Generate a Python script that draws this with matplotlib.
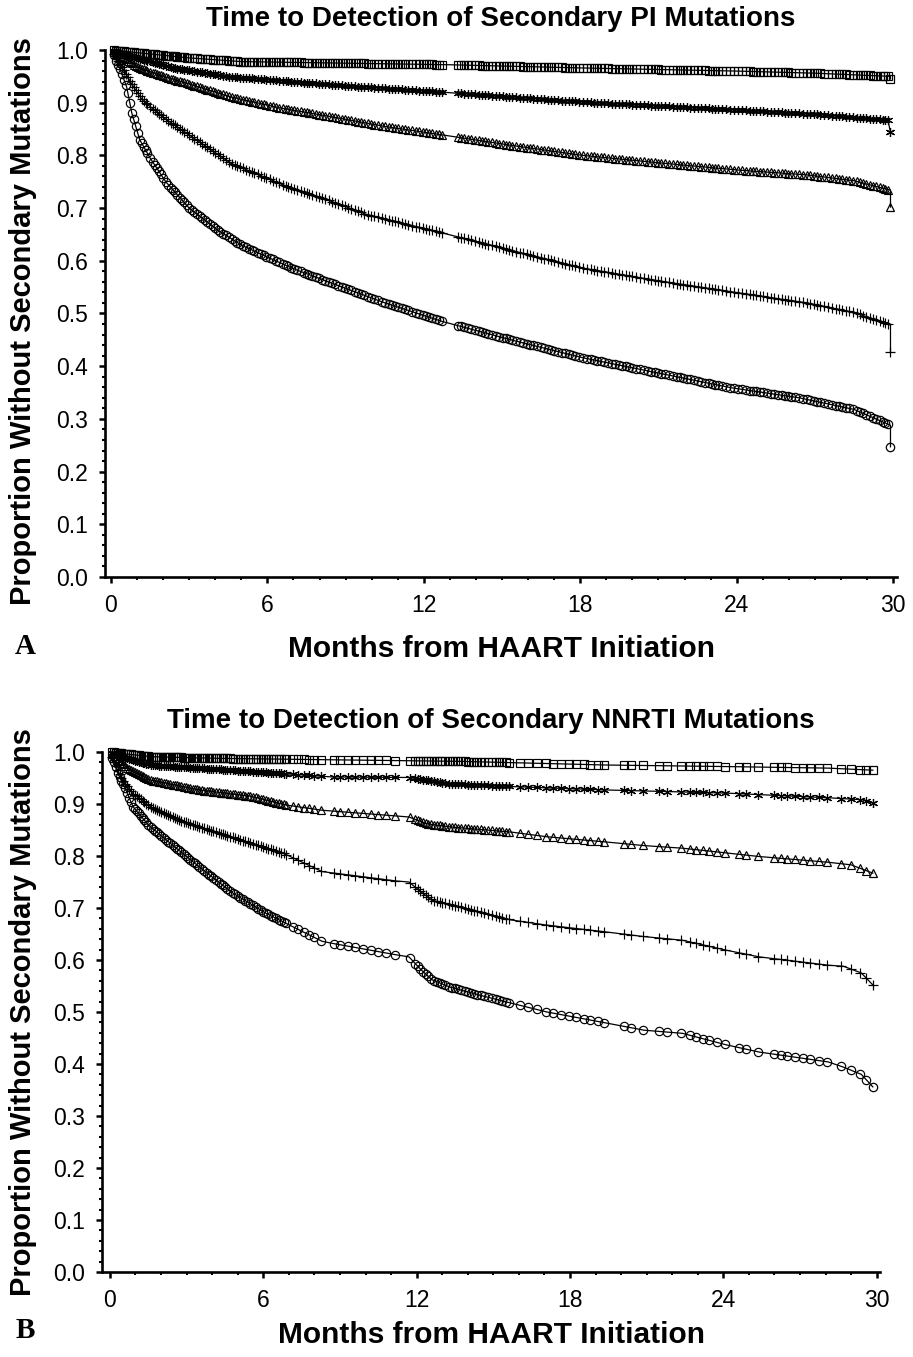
import numpy as np
import matplotlib.pyplot as plt
from matplotlib.ticker import MultipleLocator

plt.rcParams['font.family'] = ['Liberation Sans', 'DejaVu Sans']

# ---------------------------------------------------------------
# Panel A: secondary PI mutations
# ---------------------------------------------------------------
pi_sq_t = [0, 1, 3, 5, 9, 13, 18, 24, 27, 29.9, 29.9]
pi_sq_y = [1.0, 0.995, 0.985, 0.978, 0.975, 0.972, 0.966, 0.96, 0.956, 0.95, 0.945]

pi_st_t = [0, 0.5, 1, 2.5, 4.6, 8.5, 12.7, 18.2, 24.1, 27, 29.8, 29.9]
pi_st_y = [1.0, 0.993, 0.985, 0.965, 0.949, 0.934, 0.92, 0.901, 0.886, 0.878, 0.867, 0.844]

pi_tr_t = [0, 0.5, 1, 2, 2.9, 4.6, 6.5, 8.5, 10.5, 12.7, 15.5, 18.1, 21, 24.1, 26.7, 28.5, 29.9, 29.9]
pi_tr_y = [1.0, 0.985, 0.968, 0.95, 0.937, 0.911, 0.89, 0.873, 0.855, 0.839, 0.818, 0.80,
           0.786, 0.772, 0.763, 0.752, 0.734, 0.702]

pi_pl_t = [0, 0.4, 0.8, 1.2, 2, 2.9, 4.6, 6.8, 8.5, 9.8, 12.7, 15.5, 18.1, 21, 24.1, 26.7,
           28.5, 29.9, 29.9]
pi_pl_y = [1.0, 0.97, 0.935, 0.905, 0.872, 0.842, 0.785, 0.74, 0.712, 0.688, 0.653, 0.618,
           0.586, 0.562, 0.539, 0.52, 0.502, 0.478, 0.427]

pi_ci_t = [0, 0.3, 0.6, 0.8, 1.1, 1.5, 2.1, 3, 4.1, 5, 6, 7, 8.5, 10.4, 12.7, 15.5, 18.1, 21,
           23.8, 26.4, 28.5, 29.9, 29.9]
pi_ci_y = [1.0, 0.97, 0.93, 0.88, 0.83, 0.795, 0.75, 0.70, 0.658, 0.63, 0.607, 0.585, 0.557,
           0.522, 0.485, 0.448, 0.416, 0.387, 0.359, 0.34, 0.318, 0.288, 0.247]

# censoring times (months) seen as marks along the PI curves
pi_cens = [0.2, 0.35, 0.5, 0.65, 0.8, 0.95, 1.1, 1.25, 1.4, 1.6, 1.75, 1.9, 2.1, 2.3, 2.45,
           2.65, 2.8, 3.0, 3.2, 3.4, 3.6, 3.8, 4.0, 4.2, 4.4, 4.65, 4.85, 5.05, 5.3, 5.5, 5.75,
           5.95, 6.2, 6.45, 6.7, 6.9, 7.15, 7.4, 7.6, 7.85, 8.1, 8.35, 8.6, 8.85, 9.1, 9.35,
           9.6, 9.85, 10.1, 10.4, 10.65, 10.9, 11.15, 11.4, 11.7, 11.95, 12.2, 12.45, 12.7,
           13.3, 13.55, 13.8, 14.1, 14.35, 14.6, 14.9, 15.15, 15.4, 15.7, 15.95, 16.2, 16.5,
           16.75, 17.0, 17.3, 17.55, 17.8, 18.1, 18.4, 18.65, 18.9, 19.2, 19.5, 19.75, 20.0,
           20.3, 20.6, 20.85, 21.1, 21.4, 21.7, 21.95, 22.2, 22.5, 22.8, 23.05, 23.3, 23.6,
           23.9, 24.2, 24.5, 24.75, 25.0, 25.3, 25.6, 25.85, 26.1, 26.4, 26.7, 26.95, 27.2,
           27.5, 27.8, 28.05, 28.3, 28.6, 28.85, 29.1, 29.35, 29.6, 29.8]
pi_cens_more = [0.1, 0.28, 0.42, 0.57, 0.72, 0.87, 1.02, 1.18, 1.33, 1.5, 1.68, 1.83, 2.0,
                2.2, 2.38, 2.55, 2.72, 2.9, 3.1, 3.3, 3.5, 3.7, 3.9, 4.1, 4.3, 4.52, 4.75,
                4.95, 5.18, 5.4, 5.62, 5.85, 6.08, 6.32, 6.58, 6.8, 7.02, 7.28, 7.5, 7.72,
                7.98, 8.22, 8.48, 8.72, 8.98, 9.22, 9.48, 9.72, 9.98, 10.25, 10.52, 10.78,
                11.02, 11.28, 11.55, 11.82, 12.08, 12.32, 12.58, 13.42, 13.68, 13.95, 14.22,
                14.48, 14.75, 15.02, 15.28, 15.55, 15.82, 16.08, 16.35, 16.62, 16.88, 17.15,
                17.42, 17.68, 17.95, 18.25, 18.52, 18.78, 19.05, 19.35, 19.62, 19.88, 20.15,
                20.45, 20.72, 20.98, 21.25, 21.55, 21.82, 22.08, 22.35, 22.65, 22.92, 23.18,
                23.45, 23.75, 24.05, 24.35, 24.62, 24.88, 25.15, 25.45, 25.72, 25.98, 26.25,
                26.55, 26.82, 27.08, 27.35, 27.65, 27.92, 28.18, 28.45, 28.72, 28.98, 29.22,
                29.48, 29.7]

# ---------------------------------------------------------------
# Panel B: secondary NNRTI mutations
# ---------------------------------------------------------------
nn_sq_t = [0, 0.5, 1.6, 4, 8.7, 13.7, 19.4, 24.1, 28.1, 29.85]
nn_sq_y = [1.0, 0.997, 0.991, 0.988, 0.985, 0.982, 0.975, 0.972, 0.969, 0.965]

nn_st_t = [0, 0.5, 1.6, 4.8, 8.7, 11.7, 13.3, 16, 19.4, 24.1, 28.1, 29.5, 29.85]
nn_st_y = [1.0, 0.99, 0.975, 0.965, 0.952, 0.951, 0.939, 0.933, 0.927, 0.921, 0.912, 0.908, 0.902]

nn_tr_t = [0, 0.3, 0.8, 1.6, 3.5, 5.5, 6.9, 8.3, 11.2, 11.7, 12.4, 13.3, 15.7, 17.1, 19.4,
           20.9, 22.4, 24.1, 25.4, 28.1, 29.0, 29.85]
nn_tr_y = [1.0, 0.985, 0.965, 0.946, 0.927, 0.915, 0.898, 0.888, 0.877, 0.875, 0.862, 0.856,
           0.846, 0.837, 0.827, 0.82, 0.815, 0.806, 0.799, 0.788, 0.783, 0.767]

nn_pl_t = [0, 0.2, 0.5, 0.9, 1.6, 2.5, 3.5, 5.5, 6.8, 8.3, 11.2, 11.7, 12.2, 12.6, 13.7, 15.7,
           17.1, 19.4, 20.9, 22.4, 24.1, 25.4, 28.1, 28.7, 29.4, 29.85]
nn_pl_y = [1.0, 0.975, 0.945, 0.92, 0.894, 0.873, 0.856, 0.825, 0.805, 0.77, 0.752, 0.75,
           0.73, 0.715, 0.702, 0.677, 0.667, 0.654, 0.645, 0.638, 0.619, 0.606, 0.59, 0.588,
           0.575, 0.552]

nn_ci_t = [0, 0.15, 0.3, 0.6, 0.9, 1.5, 2.2, 3.5, 4.8, 6.1, 7.4, 8.3, 8.7, 11.2, 11.7, 12.2,
           12.6, 13.3, 14.5, 15.7, 17.1, 19.4, 20.9, 22.4, 24.1, 25.4, 28.1, 28.7, 29.4, 29.85]
nn_ci_y = [1.0, 0.98, 0.96, 0.93, 0.895, 0.86, 0.831, 0.779, 0.729, 0.69, 0.658, 0.636, 0.632,
           0.61, 0.606, 0.58, 0.562, 0.548, 0.532, 0.517, 0.50, 0.479, 0.465, 0.459, 0.437,
           0.423, 0.404, 0.394, 0.38, 0.356]

nn_cens = [0.15, 0.3, 0.45, 0.6, 0.75, 0.9, 1.05, 1.2, 1.35, 1.5, 1.7, 1.85, 2.0, 2.2, 2.35,
           2.55, 2.7, 2.9, 3.05, 3.25, 3.4, 3.6, 3.8, 3.95, 4.15, 4.35, 4.5, 4.7, 4.9, 5.1,
           5.3, 5.5, 5.7, 5.9, 6.1, 6.3, 6.5, 6.7, 6.9, 7.15, 7.35, 7.6, 7.8, 8.0, 8.25, 8.75,
           9.0, 9.3, 9.6, 9.9, 10.2, 10.5, 10.8, 11.15, 11.75, 11.95, 12.15, 12.35, 12.55,
           12.8, 13.0, 13.25, 13.5, 13.75, 14.0, 14.25, 14.5, 14.8, 15.1, 15.35, 15.6, 16.05,
           16.35, 16.7, 17.05, 17.35, 17.65, 17.95, 18.25, 18.55, 18.8, 19.1, 19.35, 20.1,
           20.4, 20.85, 21.5, 21.8, 22.35, 22.7, 22.95, 23.2, 23.45, 23.75, 24.05, 24.6, 24.9,
           25.35, 26.0, 26.25, 26.5, 26.8, 27.1, 27.4, 27.75, 28.05, 28.6, 29.0, 29.35, 29.6,
           29.85]
nn_cens_more = [0.08, 0.22, 0.38, 0.52, 0.68, 0.82, 0.98, 1.12, 1.28, 1.42, 1.6, 1.78, 1.92,
                2.1, 2.28, 2.45, 2.62, 2.8, 2.98, 3.15, 3.32, 3.5, 3.7, 3.88, 4.05, 4.25,
                4.42, 4.6, 4.8, 5.0, 5.2, 5.4, 5.6, 5.8, 6.0, 6.2, 6.4, 6.6, 6.8, 12.05,
                12.25, 12.45, 12.68, 12.9, 13.12, 13.38, 13.62, 13.88, 14.12, 14.38, 14.65,
                14.95, 15.22, 15.48]

y_ticks = [0.0, 0.1, 0.2, 0.3, 0.4, 0.5, 0.6, 0.7, 0.8, 0.9, 1.0]
x_ticks = [0, 6, 12, 18, 24, 30]

markers = ['s', (6, 2, 0), '^', '+', 'o']
msizes = [5.5, 6.5, 6, 7.5, 6]


def draw_panel(ax, curves, cens, title, xlim, xpad, ylab_x, ylab_y):
    for (t, y), m, ms in zip(curves, markers, msizes):
        t = np.array(t)
        y = np.array(y)
        ax.plot(t, y, color='black', lw=0.9, clip_on=False, zorder=2)
        # censor marks sit on the curve at the listed times
        ct = np.array([c for c in cens if c < t[-1]])
        cy = np.interp(ct, t[:-1], y[:-1]) if t[-1] == t[-2] else np.interp(ct, t, y)
        ax.plot(ct, cy, ls='none', marker=m, ms=ms, mfc='none', mec='black', mew=0.85,
                clip_on=False, zorder=3)
        ax.plot([t[-1]], [y[-1]], ls='none', marker=m, ms=ms, mfc='none', mec='black',
                mew=0.9, clip_on=False, zorder=3)

    ax.set_xlim(*xlim)
    ax.set_ylim(0, 1.0)
    ax.set_xticks(x_ticks)
    ax.set_yticks(y_ticks)
    ax.set_yticklabels(['%.1f' % v for v in y_ticks])
    ax.xaxis.set_minor_locator(MultipleLocator(1))
    ax.yaxis.set_minor_locator(MultipleLocator(0.02))
    ax.tick_params(which='major', direction='out', length=4, width=1.8, labelsize=16.5, pad=8)
    ax.tick_params(which='minor', direction='out', length=2.5, width=1.5)
    for s in ['top', 'right']:
        ax.spines[s].set_visible(False)
    for s in ['left', 'bottom']:
        ax.spines[s].set_linewidth(1.9)
    ax.set_title(title, fontsize=20, fontweight='bold', pad=17)
    ax.set_xlabel('Months from HAART Initiation', fontsize=21.5, fontweight='bold',
                  labelpad=xpad)
    ax.set_ylabel('Proportion Without Secondary Mutations', fontsize=21, fontweight='bold')
    ax.yaxis.set_label_coords(ylab_x, ylab_y)


fig = plt.figure(figsize=(9.13, 13.57), dpi=100)
ax_a = fig.add_axes([105 / 913, 1 - 577 / 1357, 792 / 913, 527 / 1357])
ax_b = fig.add_axes([102 / 913, 1 - 1272 / 1357, 778 / 913, 520 / 1357])

curves_a = [(pi_sq_t, pi_sq_y), (pi_st_t, pi_st_y), (pi_tr_t, pi_tr_y),
            (pi_pl_t, pi_pl_y), (pi_ci_t, pi_ci_y)]
curves_b = [(nn_sq_t, nn_sq_y), (nn_st_t, nn_st_y), (nn_tr_t, nn_tr_y),
            (nn_pl_t, nn_pl_y), (nn_ci_t, nn_ci_y)]

draw_panel(ax_a, curves_a, sorted(pi_cens + pi_cens_more),
           'Time to Detection of Secondary PI Mutations', (-0.23, 30.15), 13, -0.086, 0.485)
draw_panel(ax_b, curves_b, sorted(nn_cens + nn_cens_more),
           'Time to Detection of Secondary NNRTI Mutations', (-0.31, 30.13), 7, -0.084, 0.5)

fig.text(25 / 913, 1 - 647 / 1357, 'A', family='Liberation Serif', fontweight='bold',
         fontsize=21, ha='center', va='center')
fig.text(25 / 913, 1 - 1330 / 1357, 'B', family='Liberation Serif', fontweight='bold',
         fontsize=21, ha='center', va='center')

fig.savefig('out.png', dpi=100)
